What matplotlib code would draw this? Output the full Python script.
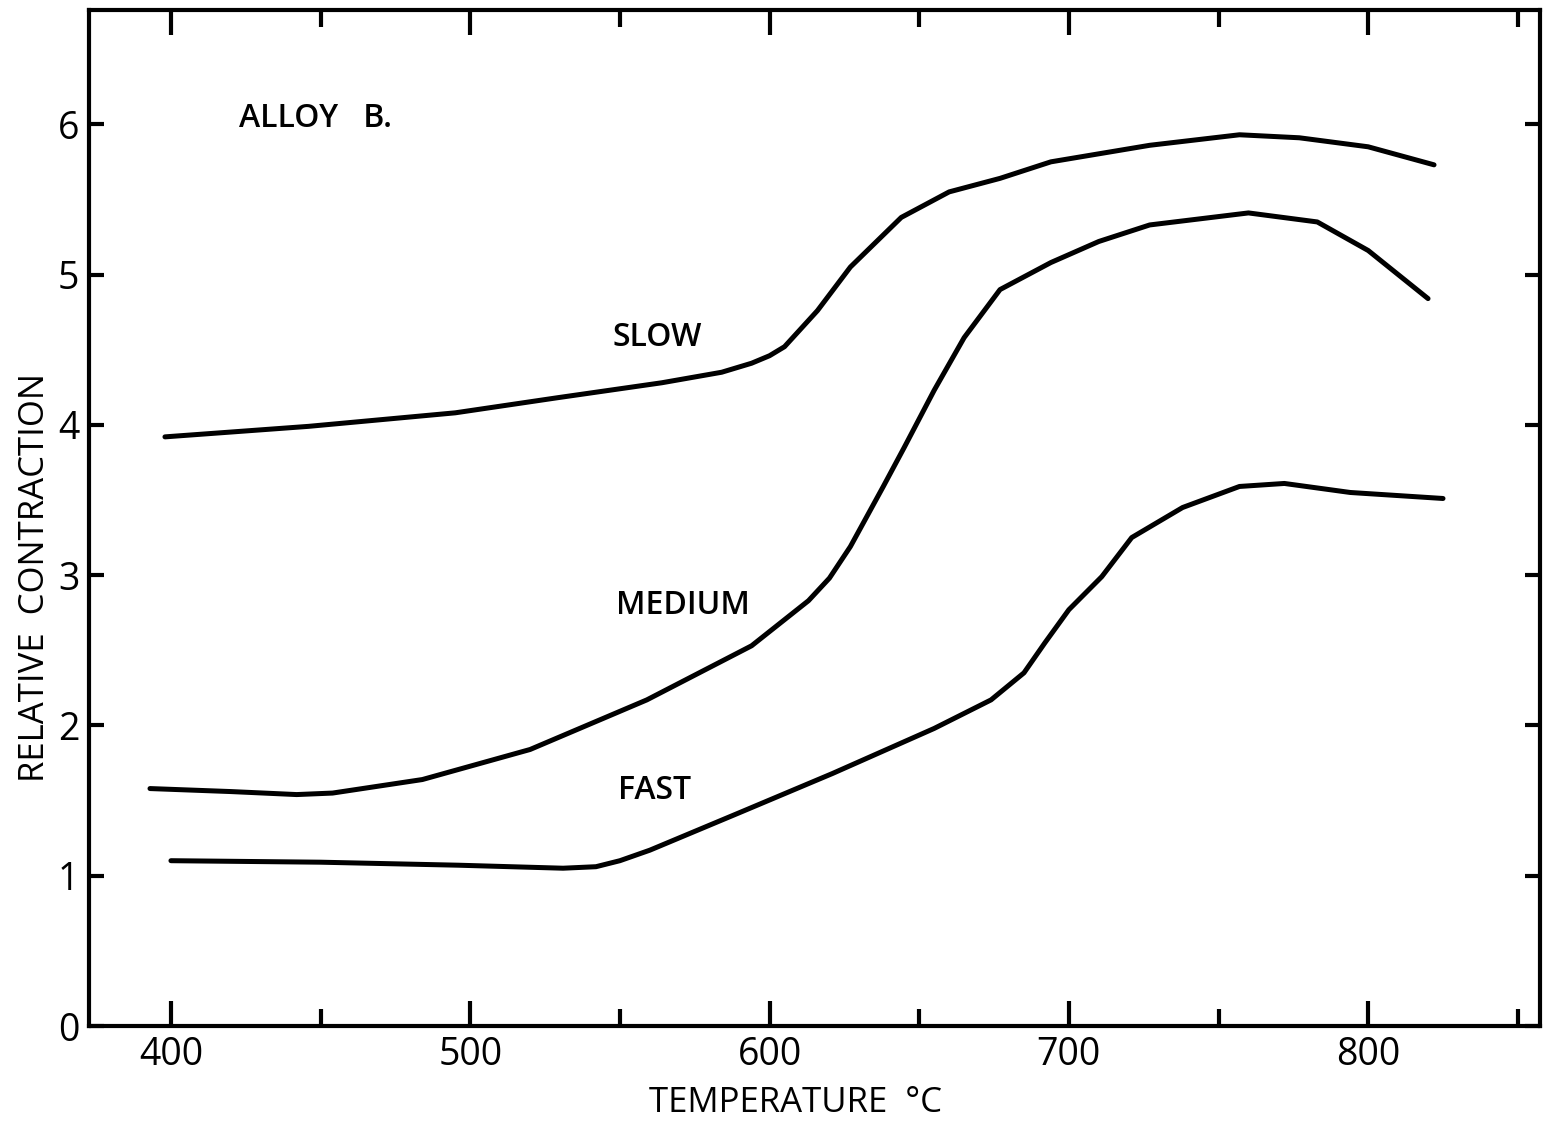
import matplotlib
matplotlib.use("Agg")
import matplotlib.pyplot as plt
from matplotlib.ticker import MultipleLocator

# contraction curves for the three cooling rates (temperature in deg C)
slow_temp = [398, 446, 495, 529, 564, 584, 594, 600, 605, 616, 627, 644, 660,
             677, 694, 727, 757, 777, 800, 822]
slow_val = [3.92, 3.99, 4.08, 4.18, 4.28, 4.35, 4.41, 4.46, 4.52, 4.76, 5.05,
            5.38, 5.55, 5.64, 5.75, 5.86, 5.93, 5.91, 5.85, 5.73]

medium_temp = [393, 420, 442, 454, 484, 520, 559, 594, 613, 620, 627, 638, 645,
               655, 665, 677, 694, 710, 727, 760, 783, 800, 820]
medium_val = [1.58, 1.56, 1.54, 1.55, 1.64, 1.84, 2.17, 2.53, 2.83, 2.98, 3.19,
              3.59, 3.85, 4.23, 4.58, 4.90, 5.08, 5.22, 5.33, 5.41, 5.35, 5.16, 4.84]

fast_temp = [400, 450, 496, 531, 542, 550, 560, 590, 621, 655, 674, 685, 692,
             700, 711, 721, 738, 757, 772, 794, 825]
fast_val = [1.10, 1.09, 1.07, 1.05, 1.06, 1.10, 1.17, 1.42, 1.68, 1.98, 2.17,
            2.35, 2.55, 2.77, 2.99, 3.25, 3.45, 3.59, 3.61, 3.55, 3.51]

curve_labels = ["SLOW", "MEDIUM", "FAST"]
label_pos = [(547.6, 4.58), (548.6, 2.80), (549.3, 1.57)]

plt.rcParams['font.family'] = ['Open Sans', 'DejaVu Sans']

fig = plt.figure(figsize=(15.44, 11.27), dpi=100)
ax = fig.add_axes([0.0576, 0.0896, 0.9398, 0.9015])

for t, v in [(slow_temp, slow_val), (medium_temp, medium_val), (fast_temp, fast_val)]:
    ax.plot(t, v, color="black", lw=3.6, solid_capstyle="round", solid_joinstyle="round")

for name, (x, y) in zip(curve_labels, label_pos):
    ax.text(x, y, name, fontsize=23, fontweight="semibold", va="center", ha="left")

ax.text(422.7, 6.04, "ALLOY   B.", fontsize=23, fontweight="semibold", va="center", ha="left")

ax.set_xlim(372.6, 857.4)
ax.set_ylim(0, 6.76)

ax.xaxis.set_major_locator(MultipleLocator(100))
ax.xaxis.set_minor_locator(MultipleLocator(50))
ax.yaxis.set_major_locator(MultipleLocator(1))

ax.tick_params(axis="x", which="major", direction="in", length=18, width=3,
               top=True, labelsize=27, pad=7)
ax.tick_params(axis="x", which="minor", direction="in", length=12, width=3, top=True)
ax.tick_params(axis="y", which="major", direction="in", length=11, width=3,
               right=True, labelsize=27, pad=7)

for s in ax.spines.values():
    s.set_linewidth(3)

ax.set_xlabel("TEMPERATURE  °C", fontsize=25, va="center", ha="center")
ax.set_ylabel("RELATIVE  CONTRACTION", fontsize=25, va="center", ha="center")
ax.xaxis.set_label_coords(0.4866, -0.0758)
ax.yaxis.set_label_coords(-0.0375, 0.441)

fig.savefig("out.png", dpi=100)
